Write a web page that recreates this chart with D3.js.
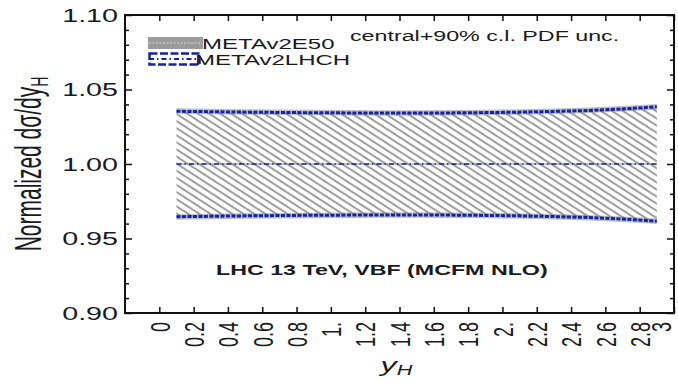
<!DOCTYPE html>
<html>
<head>
<meta charset="utf-8">
<script src="https://cdn.jsdelivr.net/npm/d3@7"></script>
<style>
  html, body { margin: 0; padding: 0; background: #fff; }
  svg { display: block; }
  text { font-family: "Liberation Sans", Arial, Helvetica, sans-serif; fill: #1a1a22; }
</style>
</head>
<body>
<svg id="chart" width="678" height="385"></svg>
<script>
// ---------------- data ----------------
const yH = [0.1, 0.3, 0.5, 0.7, 0.9, 1.1, 1.3, 1.5, 1.7, 1.9, 2.1, 2.3, 2.5, 2.7, 2.9];
const upperE50 = [1.0355, 1.0352, 1.0349, 1.0347, 1.0345, 1.0344, 1.0343, 1.0343, 1.0344, 1.0346, 1.0349, 1.0354, 1.0360, 1.0370, 1.0385];
const lowerE50 = [0.9645, 0.9648, 0.9651, 0.9653, 0.9655, 0.9656, 0.9657, 0.9657, 0.9656, 0.9654, 0.9651, 0.9646, 0.9640, 0.9630, 0.9615];
const centralE50 = [1, 1, 1, 1, 1, 1, 1, 1, 1, 1, 1, 1, 1, 1, 1];
const upperLHCH = [1.0354, 1.0351, 1.0348, 1.0346, 1.0344, 1.0343, 1.0342, 1.0342, 1.0343, 1.0345, 1.0348, 1.0353, 1.0359, 1.0369, 1.0384];
const lowerLHCH = [0.9646, 0.9649, 0.9652, 0.9654, 0.9656, 0.9657, 0.9658, 0.9658, 0.9657, 0.9655, 0.9652, 0.9647, 0.9641, 0.9631, 0.9616];
const centralLHCH = [1, 1, 1, 1, 1, 1, 1, 1, 1, 1, 1, 1, 1, 1, 1];

const xTickValues = [0, 0.2, 0.4, 0.6, 0.8, 1.0, 1.2, 1.4, 1.6, 1.8, 2.0, 2.2, 2.4, 2.6, 2.8, 3.0];
const xTickLabels = ["0", "0.2", "0.4", "0.6", "0.8", "1.", "1.2", "1.4", "1.6", "1.8", "2.", "2.2", "2.4", "2.6", "2.8", "3"];
const yTickValues = [0.90, 0.95, 1.00, 1.05, 1.10];
const yTickLabels = ["0.90", "0.95", "1.00", "1.05", "1.10"];
const yMinorValues = [0.91,0.92,0.93,0.94,0.96,0.97,0.98,0.99,1.01,1.02,1.03,1.04,1.06,1.07,1.08,1.09];
const legendLabels = ["METAv2E50", "METAv2LHCH"];
const noteTop = "central+90% c.l. PDF unc.";
const noteBottom = "LHC 13 TeV, VBF (MCFM NLO)";

// ---------------- layout ----------------
const S = 1.55; // horizontal stretch of the original picture
const L = 125, R = 674, T = 15, B = 313;
const blue = "#1424a0";

const svg = d3.select("#chart");
const x = d3.scaleLinear().domain([-0.2, 3.0]).range([L, R]);
const y = d3.scaleLinear().domain([0.90, 1.10]).range([B, T]);

// hatch pattern
const defs = svg.append("defs");
const pw = 11, ph = 7.1;
const pat = defs.append("pattern").attr("id", "hatch")
  .attr("patternUnits", "userSpaceOnUse").attr("width", pw).attr("height", ph);
[-ph, 0, ph].forEach(c => {
  pat.append("line")
    .attr("x1", -2).attr("y1", c - 2 * ph / pw)
    .attr("x2", pw + 2).attr("y2", c + ph + 2 * ph / pw)
    .attr("stroke", "#959595").attr("stroke-width", 1.8);
});

const idx = d3.range(yH.length);

// band E50
const area = d3.area().x(i => x(yH[i])).y0(i => y(lowerE50[i])).y1(i => y(upperE50[i]));
svg.append("path").datum(idx).attr("d", area).attr("fill", "url(#hatch)");

const line = arr => d3.line().x(i => x(yH[i])).y(i => y(arr[i]));

// E50 edges (gray)
[upperE50, lowerE50].forEach(a => {
  svg.append("path").datum(idx).attr("d", line(a)).attr("fill", "none")
    .attr("stroke", "#8a8a9a").attr("stroke-opacity", 0.55).attr("stroke-width", 5.5);
});
svg.append("path").datum(idx).attr("d", line(centralE50)).attr("fill", "none")
  .attr("stroke", "#8a8a8a").attr("stroke-width", 1);

// LHCH (blue dashed)
[upperLHCH, lowerLHCH].forEach(a => {
  svg.append("path").datum(idx).attr("d", line(a)).attr("fill", "none")
    .attr("stroke", blue).attr("stroke-width", 3).attr("stroke-dasharray", "4,1.5");
});
svg.append("path").datum(idx).attr("d", line(centralLHCH)).attr("fill", "none")
  .attr("stroke", blue).attr("stroke-width", 1.6).attr("stroke-dasharray", "5,3,1.5,3");

// ---------------- axes ----------------
function styleAxis(g) {
  g.select(".domain").remove();
  g.selectAll(".tick line").attr("stroke", "#111").attr("stroke-width", 1.5);
}

// bottom axis with rotated labels
const gx = svg.append("g").attr("transform", `translate(0,${B})`)
  .call(d3.axisBottom(x).tickValues(xTickValues)
    .tickFormat((d, i) => xTickLabels[i]).tickSizeInner(-6).tickSizeOuter(0));
styleAxis(gx);
gx.selectAll(".tick text")
  .attr("x", 0).attr("y", 0).attr("dy", "0.35em")
  .attr("text-anchor", "end")
  .attr("font-size", 18)
  .attr("transform", (d, i) => `translate(${i === xTickValues.length - 1 ? -13 : 0},9) scale(${S},1) rotate(-90)`)
  .style("fill", "#1a1a22");

// top axis
const gxt = svg.append("g").attr("transform", `translate(0,${T})`)
  .call(d3.axisTop(x).tickValues(xTickValues).tickFormat("").tickSizeInner(-6).tickSizeOuter(0));
styleAxis(gxt);

// left axis
const gy = svg.append("g").attr("transform", `translate(${L},0)`)
  .call(d3.axisLeft(y).tickValues(yTickValues)
    .tickFormat((d, i) => yTickLabels[i]).tickSizeInner(-7).tickSizeOuter(0).tickPadding(7));
styleAxis(gy);
gy.selectAll(".tick text")
  .attr("x", 0).attr("dy", "0.35em")
  .attr("font-size", 18.5)
  .attr("transform", `translate(-7,0) scale(${S},1)`)
  .style("fill", "#1a1a22");
const gym = svg.append("g").attr("transform", `translate(${L},0)`)
  .call(d3.axisLeft(y).tickValues(yMinorValues).tickFormat("").tickSizeInner(-4).tickSizeOuter(0));
styleAxis(gym);

// right axis
const gyr = svg.append("g").attr("transform", `translate(${R},0)`)
  .call(d3.axisRight(y).tickValues(yTickValues).tickFormat("").tickSizeInner(-7).tickSizeOuter(0));
styleAxis(gyr);
const gyrm = svg.append("g").attr("transform", `translate(${R},0)`)
  .call(d3.axisRight(y).tickValues(yMinorValues).tickFormat("").tickSizeInner(-4).tickSizeOuter(0));
styleAxis(gyrm);

// frame
svg.append("rect").attr("x", L).attr("y", T).attr("width", R - L).attr("height", B - T)
  .attr("fill", "none").attr("stroke", "#111").attr("stroke-width", 2);

// ---------------- texts ----------------
// y-axis title
const yt = svg.append("text")
  .attr("transform", `translate(28,164) scale(1.75,1) rotate(-90)`)
  .attr("text-anchor", "middle").attr("dy", "0.35em").attr("font-size", 21);
yt.append("tspan").text("Normalized d\u03C3/dy");
yt.append("tspan").text("H").attr("font-size", 14).attr("dy", "0.3em");

// x-axis title
const xt = svg.append("text")
  .attr("transform", `translate(${(L + R) / 2 - 3},372) scale(${S},1)`)
  .attr("text-anchor", "middle").attr("font-size", 21).attr("font-style", "italic");
xt.append("tspan").text("y");
xt.append("tspan").text("H").attr("font-size", 14).attr("dy", "0.2em");

// notes
svg.append("text").attr("transform", `translate(350,41) scale(${S},1)`)
  .attr("font-size", 15).text(noteTop);
svg.append("text").attr("transform", `translate(216,275) scale(${S},1)`)
  .attr("font-size", 15).attr("font-weight", "bold").text(noteBottom);

// legend
const lg = svg.append("g");
lg.append("rect").attr("x", 148).attr("y", 37).attr("width", 55).attr("height", 12)
  .attr("fill", "#9c9c9c");
lg.append("line").attr("x1", 149).attr("x2", 202).attr("y1", 43).attr("y2", 43)
  .attr("stroke", "#d8d8d8").attr("stroke-width", 1.2).attr("stroke-dasharray", "2,1.5");
lg.append("rect").attr("x", 149.5).attr("y", 53.5).attr("width", 50).attr("height", 11)
  .attr("fill", "none").attr("stroke", blue).attr("stroke-width", 2.5).attr("stroke-dasharray", "8,2.5");
lg.append("line").attr("x1", 149).attr("x2", 200).attr("y1", 59).attr("y2", 59)
  .attr("stroke", blue).attr("stroke-width", 1.8).attr("stroke-dasharray", "5,3,1.5,3");
lg.append("text").attr("transform", `translate(202,49) scale(${S},1)`)
  .attr("font-size", 15.5).text(legendLabels[0]);
lg.append("text").attr("transform", `translate(195,65) scale(${S},1)`)
  .attr("font-size", 15.5).text(legendLabels[1]);
</script>
</body>
</html>
